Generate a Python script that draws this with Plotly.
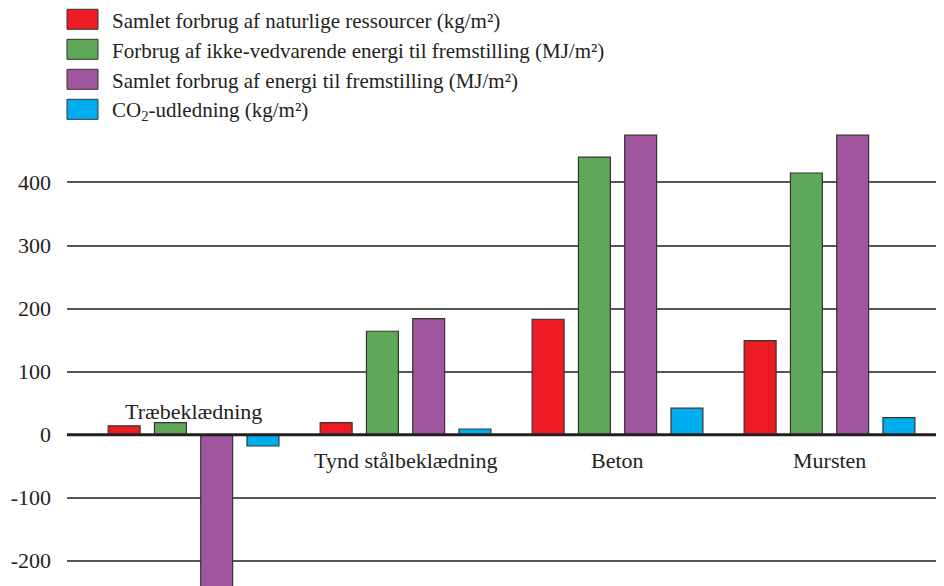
import plotly.graph_objects as go

categories = ["Træbeklædning", "Tynd stålbeklædning", "Beton", "Mursten"]
series_names = [
    "Samlet forbrug af naturlige ressourcer (kg/m²)",
    "Forbrug af ikke-vedvarende energi til fremstilling (MJ/m²)",
    "Samlet forbrug af energi til fremstilling (MJ/m²)",
    "CO<sub>2</sub>-udledning (kg/m²)",
]
ressourcer = [14, 19, 183, 149]
ikke_vedvarende = [19, 164, 440, 415]
samlet_energi = [-260, 184, 475, 475]
co2 = [-18, 9, 42, 27]
series_values = [ressourcer, ikke_vedvarende, samlet_energi, co2]
colors = ["#ED1C24", "#5FA85A", "#A0559F", "#00AEEF"]
y_ticks = [-200, -100, 0, 100, 200, 300, 400]

FONT = "Liberation Serif"
OFF = 8  # page body margin
W, H = 944 - OFF, 586 - OFF
ML, MR, MT, MB = 67 - OFF, 0, 132 - OFF, 0
PW, PH = W - ML - MR, H - MT - MB

fig = go.Figure()
for name, vals, col in zip(series_names, series_values, colors):
    fig.add_trace(go.Bar(
        x=list(range(len(categories))), y=vals, name=name,
        marker=dict(color=col, line=dict(color="#333333", width=1.2)),
        showlegend=False,
    ))

def px2paper(px, py):
    # px, py are screen coordinates
    return (px - OFF - ML) / PW, (H - (py - OFF)) / PH

shapes = []
annotations = []
# custom legend
for i, (name, col) in enumerate(zip(series_names, colors)):
    cy = 19.3 + i * 30
    x0, y0 = px2paper(67, cy - 10)
    x1, y1 = px2paper(98, cy + 10)
    shapes.append(dict(type="rect", xref="paper", yref="paper",
                       x0=x0, x1=x1, y0=y0, y1=y1,
                       fillcolor=col, line=dict(color="#333333", width=1)))
    tx, ty = px2paper(110, cy + 2)
    annotations.append(dict(xref="paper", yref="paper", x=tx, y=ty,
                            text=name, showarrow=False, xanchor="left",
                            yanchor="middle",
                            font=dict(family=FONT, size=21, color="#231F20")))

# category labels
label_shift = [23, -26, -26, -26]
for i, cat in enumerate(categories):
    annotations.append(dict(x=i, y=0, xref="x", yref="y", text=cat,
                            showarrow=False, xanchor="center", yanchor="middle",
                            yshift=label_shift[i],
                            font=dict(family=FONT, size=22, color="#231F20")))

# zero line thick
shapes.append(dict(type="line", xref="paper", yref="y", x0=0, x1=1, y0=0, y1=0,
                   line=dict(color="#231F20", width=3), layer="above"))

fig.update_layout(
    width=W, height=H,
    margin=dict(l=ML, r=MR, t=MT, b=MB, pad=0),
    paper_bgcolor="white", plot_bgcolor="white",
    barmode="group", bargap=0.127, bargroupgap=0.31,
    shapes=shapes, annotations=annotations,
    xaxis=dict(range=[-0.597, 3.54], showticklabels=False, showgrid=False,
               zeroline=False, showline=False, ticks="", automargin=False),
    yaxis=dict(range=[-240, 480], tickvals=y_ticks,
               ticktext=[str(v) for v in y_ticks],
               showgrid=True, gridcolor="#555555", gridwidth=1.5,
               zeroline=False, showline=False, ticks="", automargin=False,
               ticklabelstandoff=15,
               tickfont=dict(family=FONT, size=22, color="#231F20")),
    font=dict(family=FONT),
)
fig.write_html("out.html")
